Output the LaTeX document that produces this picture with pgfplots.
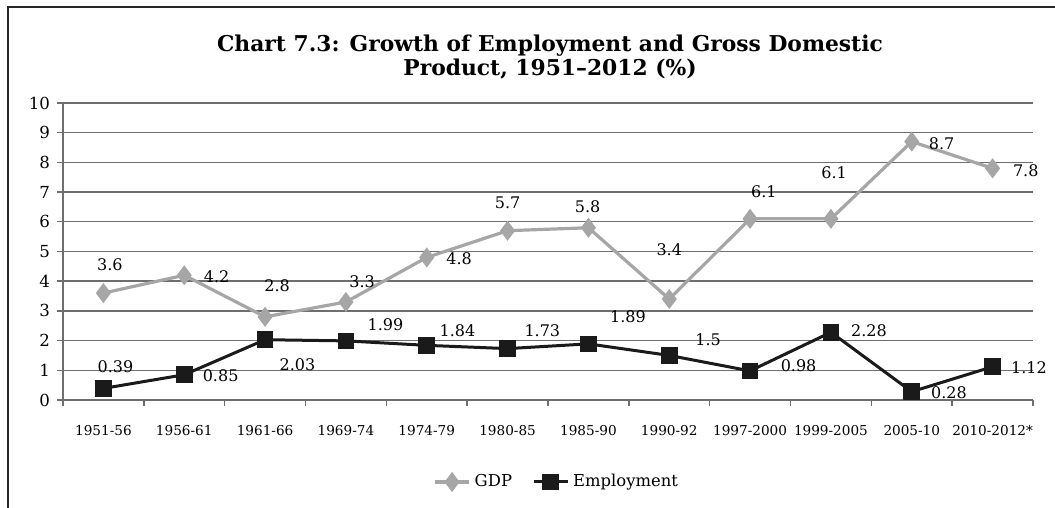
\documentclass[border=0pt]{standalone}
\usepackage{fontspec}
\setmainfont{DejaVu Serif}
\usepackage{pgfplots}
\pgfplotsset{compat=1.18}
\definecolor{gdpgray}{HTML}{A6A6A6}
\definecolor{empblack}{HTML}{1A1A1A}
\definecolor{gridgray}{HTML}{6E6E6E}
\newcommand{\lbl}{\fontsize{8}{9.6}\selectfont}
\begin{document}
\begin{tikzpicture}
\useasboundingbox (0,0) rectangle (527.5pt,254pt);
\draw[line width=1.3pt, black!85] (4pt,0) -- (4pt,250.5pt) -- (527.5pt,250.5pt);
\node[align=center, font=\fontsize{10.9}{11.6}\selectfont\bfseries] at (275pt,225.5pt)
  {Chart 7.3: Growth of Employment and Gross Domestic\\Product, 1951--2012 (\%)};
\begin{axis}[
  at={(31.5pt,54pt)}, anchor=south west,
  scale only axis, width=485pt, height=148.5pt,
  xmin=-0.5, xmax=11.5, ymin=0, ymax=10,
  axis x line*=bottom, axis y line*=left,
  axis line style={gridgray, line width=0.7pt},
  clip=false,
  xtick={0,...,11},
  xticklabels={1951-56,1956-61,1961-66,1969-74,1974-79,1980-85,1985-90,1990-92,1997-2000,1999-2005,2005-10,2010-2012*},
  x tick label style={font=\fontsize{6.8}{8}\selectfont, yshift=-6pt},
  major x tick style={draw=none},
  minor xtick={-0.5,0.5,...,11.5},
  minor x tick style={gridgray, line width=0.7pt},
  minor tick length=3pt,
  major tick length=3pt,
  tick align=outside,
  ytick={0,...,10},
  y tick style={gridgray, line width=0.7pt},
  y tick label style={font=\fontsize{8.3}{9.6}\selectfont},
  /pgf/number format/assume math mode=true,
  ymajorgrids,
  grid style={gridgray, line width=0.7pt},
  legend style={at={(0.51,-0.276)}, anchor=center, draw=none, fill=none,
    legend columns=2, font=\fontsize{8.2}{9.6}\selectfont,
    /tikz/every even column/.append style={column sep=8pt}},
  legend cell align=left,
]
\addplot[gdpgray, line width=1.6pt, mark=diamond*, mark size=3.7pt, mark options={solid, fill=gdpgray}]
  coordinates {(0,3.6)(1,4.2)(2,2.8)(3,3.3)(4,4.8)(5,5.7)(6,5.8)(7,3.4)(8,6.1)(9,6.1)(10,8.7)(11,7.8)};
\addlegendentry{GDP}
\addplot[empblack, line width=1.5pt, mark=square*, mark size=3.4pt, mark options={solid, fill=empblack}]
  coordinates {(0,0.39)(1,0.85)(2,2.03)(3,1.99)(4,1.84)(5,1.73)(6,1.89)(7,1.5)(8,0.98)(9,2.28)(10,0.28)(11,1.12)};
\addlegendentry{Employment}
% GDP labels
\node[font=\lbl] at (axis cs:0.08,4.55) {3.6};
\node[font=\lbl] at (axis cs:1.40,4.15) {4.2};
\node[font=\lbl] at (axis cs:2.15,3.85) {2.8};
\node[font=\lbl] at (axis cs:3.20,4.00) {3.3};
\node[font=\lbl] at (axis cs:4.40,4.75) {4.8};
\node[font=\lbl] at (axis cs:5.00,6.65) {5.7};
\node[font=\lbl] at (axis cs:5.99,6.52) {5.8};
\node[font=\lbl] at (axis cs:7.00,5.05) {3.4};
\node[font=\lbl] at (axis cs:8.17,7.00) {6.1};
\node[font=\lbl] at (axis cs:9.04,7.65) {6.1};
\node[font=\lbl] at (axis cs:10.37,8.62) {8.7};
\node[font=\lbl] at (axis cs:11.41,7.72) {7.8};
% Employment labels
\node[font=\lbl] at (axis cs:0.15,1.12) {0.39};
\node[font=\lbl] at (axis cs:1.45,0.83) {0.85};
\node[font=\lbl] at (axis cs:2.40,1.18) {2.03};
\node[font=\lbl] at (axis cs:3.49,2.53) {1.99};
\node[font=\lbl] at (axis cs:4.38,2.35) {1.84};
\node[font=\lbl] at (axis cs:5.43,2.32) {1.73};
\node[font=\lbl] at (axis cs:6.49,2.80) {1.89};
\node[font=\lbl] at (axis cs:7.48,2.03) {1.5};
\node[font=\lbl] at (axis cs:8.60,1.17) {0.98};
\node[font=\lbl] at (axis cs:9.47,2.35) {2.28};
\node[font=\lbl] at (axis cs:10.46,0.23) {0.28};
\node[font=\lbl] at (axis cs:11.45,1.10) {1.12};
\end{axis}
\end{tikzpicture}
\end{document}
